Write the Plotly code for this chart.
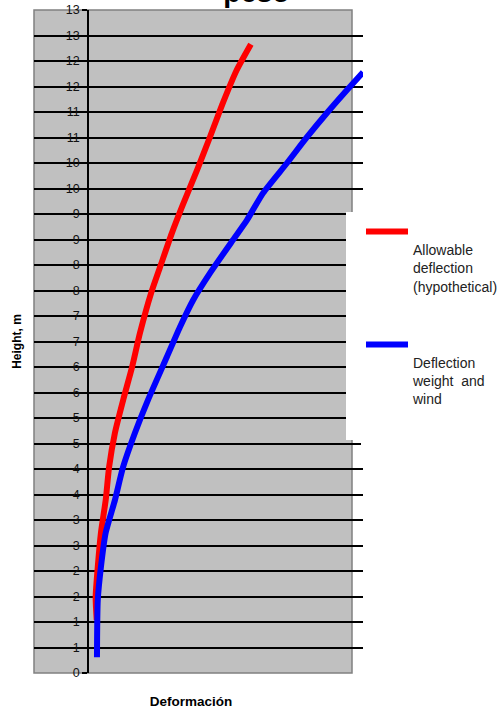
import plotly.graph_objects as go

# ---- data ----
height_allowable = [1.04, 1.49, 2.08, 2.75, 3.39, 4.04, 4.71, 5.35, 6.00, 6.67, 7.45,
                    7.96, 8.63, 9.14, 9.86, 10.51, 11.18, 11.82, 12.33]
defl_allowable = [0.33, 0.29, 0.37, 0.49, 0.67, 0.80, 1.02, 1.33, 1.67, 1.97, 2.39,
                  2.73, 3.18, 3.56, 4.13, 4.62, 5.11, 5.63, 6.17]

height_wind = [0.31, 1.43, 2.08, 2.75, 3.39, 4.04, 4.71, 5.35, 6.20, 6.78, 7.31,
               7.84, 8.49, 8.88, 9.41, 10.00, 10.51, 10.98, 11.43, 11.78]
defl_wind = [0.34, 0.37, 0.49, 0.67, 1.02, 1.33, 1.78, 2.27, 2.99, 3.48, 3.98,
             4.62, 5.49, 6.02, 6.63, 7.54, 8.30, 9.05, 9.81, 10.42]

y_tickvals = [0, 0.5, 1, 1.5, 2, 2.5, 3, 3.5, 4, 4.5, 5, 5.5, 6, 6.5, 7, 7.5, 8, 8.5,
              9, 9.5, 10, 10.5, 11, 11.5, 12, 12.5, 13]
y_ticktext = ["0", "1", "1", "2", "2", "3", "3", "4", "4", "5", "5", "6", "6", "7", "7",
              "8", "8", "9", "9", "10", "10", "11", "11", "12", "12", "13", "13"]

name_allowable = "&nbsp;<br>Allowable<br>deflection<br>(hypothetical)"
name_wind = "&nbsp;<br>Deflection<br>weight &nbsp;and<br>wind<br>&nbsp;<br>&nbsp;"

FONT = "Liberation Sans, Arial, sans-serif"

# ---- geometry (pixels) ----
W, H = 500, 709
L, R, T, B = 34, 363, 10, 673
GRAY_R = 352
AXIS_X = 88
px_per_unit = 26.4
x_min = -(AXIS_X - L) / px_per_unit
x_max = (R - AXIS_X) / px_per_unit
LEG_X, LEG_TOP = 361, 216

fig = go.Figure()
fig.add_trace(go.Scatter(x=defl_allowable, y=height_allowable, mode="lines",
                         name=name_allowable, legendgroup="a",
                         line=dict(color="#FF0000", width=6, shape="spline", smoothing=0.6)))
fig.add_trace(go.Scatter(x=defl_wind, y=height_wind, mode="lines",
                         name=name_wind, legendgroup="b",
                         line=dict(color="#0000FF", width=6, shape="spline", smoothing=0.6)))

pw = R - L
ph = B - T
fig.update_layout(
    width=W, height=H,
    margin=dict(l=L, r=W - R, t=T, b=H - B, autoexpand=False),
    paper_bgcolor="white",
    plot_bgcolor="white",
    font=dict(family=FONT, color="black"),
    title=dict(text="peso", font=dict(size=28.5, weight="bold", family=FONT, color="black"),
               x=256.5 / W, xanchor="center", xref="container",
               y=1 - 2 / H, yanchor="bottom", yref="container"),
    xaxis=dict(range=[x_min, x_max], showgrid=False, zeroline=False, showline=False,
               showticklabels=False, ticks="",
               title=dict(text="Deformación&nbsp;&nbsp;&nbsp;&nbsp;",
                          font=dict(size=13.5, weight="bold", family=FONT),
                          standoff=23)),
    yaxis=dict(range=[0, 13], anchor="free", position=(AXIS_X - L) / pw,
               tickvals=y_tickvals, ticktext=y_ticktext,
               showgrid=True, gridcolor="black", gridwidth=1.5,
               zeroline=False, showline=True, linecolor="black", linewidth=1.5,
               ticks="outside", ticklen=5, tickwidth=1.5, tickcolor="black",
               tickfont=dict(size=12.5, family=FONT, color="#111"),
               title=dict(text="Height, m", font=dict(size=12, weight="bold", family=FONT),
                          standoff=41)),
    legend=dict(x=(LEG_X - L) / pw, y=(B - LEG_TOP) / ph, xanchor="left", yanchor="top",
                bgcolor="white", borderwidth=0, valign="top", tracegroupgap=37,
                itemwidth=42,
                font=dict(size=14, family=FONT, color="#222")),
    shapes=[
        dict(type="rect", xref="paper", yref="paper", x0=0, x1=(GRAY_R - L) / pw,
             y0=0, y1=1, fillcolor="#C0C0C0", line=dict(color="#808080", width=1.5),
             layer="below"),
        dict(type="rect", xref="paper", yref="paper", x0=(GRAY_R + 1 - L) / pw, x1=1.05,
             y0=-0.01, y1=1.01, fillcolor="white", line=dict(width=0),
             layer="between"),
        dict(type="rect", xref="paper", yref="paper", x0=(346 - L) / pw, x1=(LEG_X + 2 - L) / pw,
             y0=(B - 440) / ph, y1=(B - 212) / ph, fillcolor="white", line=dict(width=0),
             layer="above"),
    ],
)

fig.write_html("out.html", config={"displayModeBar": False},
               post_script="document.body.style.margin='0px';")
